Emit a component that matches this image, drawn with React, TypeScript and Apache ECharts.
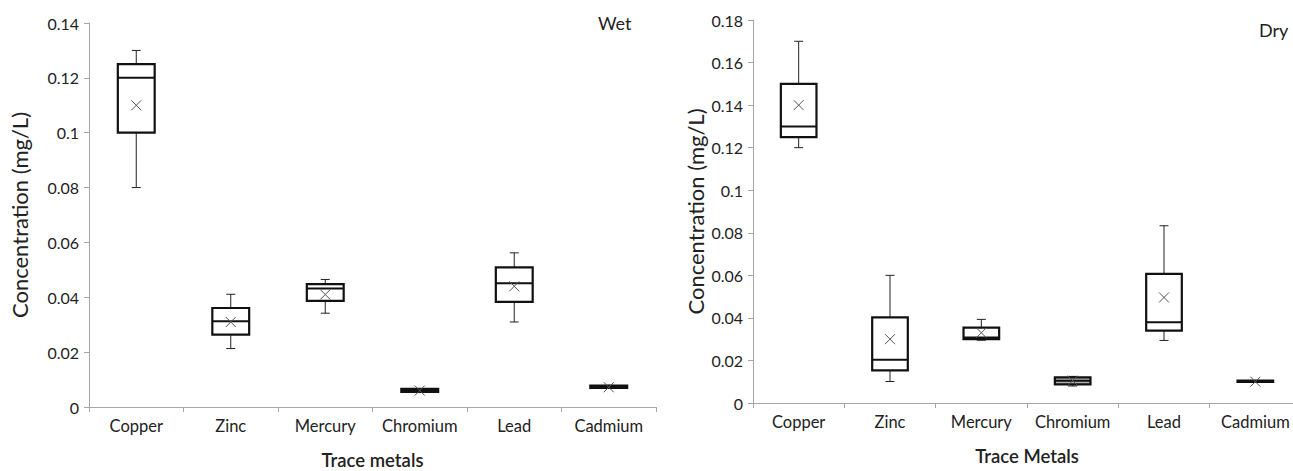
import React, { useEffect, useRef } from "react";
import * as echarts from "echarts";

const categories = ["Copper", "Zinc", "Mercury", "Chromium", "Lead", "Cadmium"];
const wetYTicks = [0, 0.02, 0.04, 0.06, 0.08, 0.1, 0.12, 0.14];
const dryYTicks = [0, 0.02, 0.04, 0.06, 0.08, 0.1, 0.12, 0.14, 0.16, 0.18];

// [low, q1, median, q3, high, mean]
const wetStats = [
  [0.08, 0.1, 0.12, 0.125, 0.13, 0.11],
  [0.0213, 0.0264, 0.0313, 0.0361, 0.0411, 0.031],
  [0.0342, 0.0387, 0.0432, 0.0448, 0.0465, 0.041],
  [0.0054, 0.0055, 0.006, 0.0066, 0.0067, 0.006],
  [0.031, 0.0383, 0.0451, 0.0509, 0.0562, 0.044],
  [0.0069, 0.007, 0.0073, 0.0078, 0.0079, 0.0072],
];
const dryStats = [
  [0.12, 0.125, 0.13, 0.15, 0.17, 0.14],
  [0.0101, 0.0153, 0.0203, 0.0402, 0.06, 0.03],
  [0.0295, 0.03, 0.0308, 0.0354, 0.0393, 0.033],
  [0.008, 0.0088, 0.0105, 0.012, 0.0125, 0.0105],
  [0.0294, 0.034, 0.038, 0.0607, 0.0833, 0.0496],
  [0.0098, 0.0099, 0.0102, 0.0105, 0.0106, 0.01],
];
const dryFilled = [false, false, false, true, false, false];

const FONT = "Lato";
const TXT = "#222";
const AXIS = "#a6a6a6";

function renderBox(fills: boolean[] | null) {
  return (params: any, api: any) => {
    const idx = api.value(0);
    const low = api.coord([idx, api.value(1)]);
    const q1 = api.coord([idx, api.value(2)]);
    const med = api.coord([idx, api.value(3)]);
    const q3 = api.coord([idx, api.value(4)]);
    const high = api.coord([idx, api.value(5)]);
    const mean = api.coord([idx, api.value(6)]);
    const bw = api.size([1, 0])[0] * 0.39;
    const cx = low[0];
    const half = bw / 2;
    const cap = 4.5;
    const m = 5;
    const fill = fills && fills[params.dataIndex] ? "#b0b0b0" : "#fff";
    const thin = { stroke: "#222", lineWidth: 1, fill: "none" };
    return {
      type: "group",
      children: [
        { type: "line", shape: { x1: cx, y1: high[1], x2: cx, y2: q3[1] }, style: thin },
        { type: "line", shape: { x1: cx - cap, y1: high[1], x2: cx + cap, y2: high[1] }, style: thin },
        { type: "line", shape: { x1: cx, y1: low[1], x2: cx, y2: q1[1] }, style: thin },
        { type: "line", shape: { x1: cx - cap, y1: low[1], x2: cx + cap, y2: low[1] }, style: thin },
        {
          type: "rect",
          shape: { x: cx - half, y: q3[1], width: bw, height: Math.max(q1[1] - q3[1], 0.5) },
          style: { stroke: "#111", lineWidth: 2.2, fill },
        },
        { type: "line", shape: { x1: cx - half, y1: med[1], x2: cx + half, y2: med[1] }, style: { stroke: "#111", lineWidth: 2 } },
        { type: "line", shape: { x1: cx - m, y1: mean[1] - m, x2: cx + m, y2: mean[1] + m }, style: { stroke: "#555", lineWidth: 1 } },
        { type: "line", shape: { x1: cx - m, y1: mean[1] + m, x2: cx + m, y2: mean[1] - m }, style: { stroke: "#555", lineWidth: 1 } },
      ],
    };
  };
}

function toData(stats: number[][]) {
  return stats.map((s, i) => [i, ...s]);
}

export default function App() {
  const ref = useRef<HTMLDivElement>(null);
  useEffect(() => {
    const chart = echarts.init(ref.current!, null, { renderer: "svg" });
    const xAxisBase = (gridIndex: number, name: string) => ({
      type: "category",
      gridIndex,
      data: categories,
      name,
      nameLocation: "middle",
      nameGap: 43,
      nameTextStyle: { fontFamily: FONT, fontSize: 18.5, fontWeight: 600, color: TXT },
      axisLine: { lineStyle: { color: AXIS, width: 1 } },
      axisTick: { show: true, length: 5, interval: 0, lineStyle: { color: AXIS }, alignWithLabel: false },
      axisLabel: { fontFamily: FONT, fontSize: 16.5, color: TXT, margin: 10, interval: 0, hideOverlap: false },
      splitLine: { show: false },
    });
    const yAxisBase = (gridIndex: number, max: number, gap: number) => ({
      type: "value",
      gridIndex,
      min: 0,
      max,
      interval: 0.02,
      name: "Concentration (mg/L)",
      nameLocation: "middle",
      nameGap: gap,
      nameTextStyle: { fontFamily: FONT, fontSize: 22, color: TXT },
      axisLine: { show: true, lineStyle: { color: AXIS, width: 1 } },
      axisTick: { show: true, length: 5, lineStyle: { color: AXIS } },
      axisLabel: {
        fontFamily: FONT,
        fontSize: 16,
        color: TXT,
        margin: 10,
        formatter: (v: number) => String(parseFloat(v.toFixed(2))),
      },
      splitLine: { show: false },
    });
    chart.setOption({
      animation: false,
      backgroundColor: "#fff",
      grid: [
        { left: 89, top: 23, width: 567, height: 384, containLabel: false, outerBoundsMode: "none" },
        { left: 753, top: 20, width: 548, height: 383, containLabel: false, outerBoundsMode: "none" },
      ],
      xAxis: [xAxisBase(0, "Trace metals"), xAxisBase(1, "Trace Metals")],
      yAxis: [
        yAxisBase(0, wetYTicks[wetYTicks.length - 1], 59),
        yAxisBase(1, dryYTicks[dryYTicks.length - 1], 47),
      ],
      graphic: [
        { type: "text", left: 598, top: 14, style: { text: "Wet", fontFamily: FONT, fontSize: 18, fill: TXT } },
        { type: "text", left: 1259, top: 21, style: { text: "Dry", fontFamily: FONT, fontSize: 18, fill: TXT } },
      ],
      series: [
        {
          type: "custom",
          xAxisIndex: 0,
          yAxisIndex: 0,
          renderItem: renderBox(null),
          encode: { x: 0, y: [1, 2, 3, 4, 5, 6] },
          data: toData(wetStats),
          clip: false,
        },
        {
          type: "custom",
          xAxisIndex: 1,
          yAxisIndex: 1,
          renderItem: renderBox(dryFilled),
          encode: { x: 0, y: [1, 2, 3, 4, 5, 6] },
          data: toData(dryStats),
          clip: false,
        },
      ],
    });
    return () => chart.dispose();
  }, []);
  return (
    <div
      ref={ref}
      style={{ position: "fixed", left: 0, top: 0, width: 1293, height: 471, background: "#fff" }}
    />
  );
}
